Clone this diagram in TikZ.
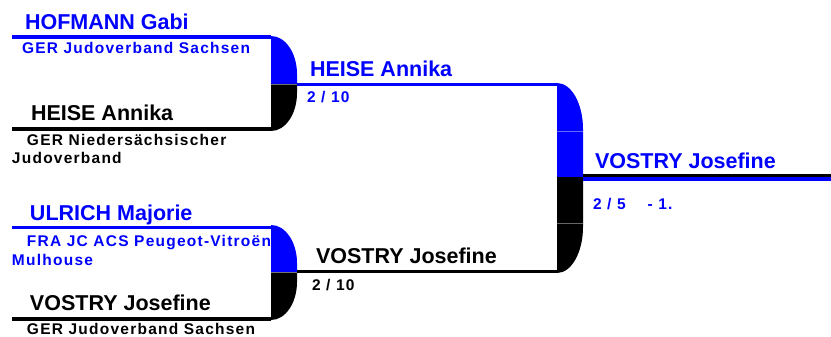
\documentclass[tikz,border=0pt]{standalone}
\usepackage{fontspec}
\setmainfont{Liberation Sans}
\newfontfamily\clubfont[LetterSpace=8]{Liberation Sans}

\begin{document}
\begin{tikzpicture}[x=1pt,y=-1pt,every node/.style={inner sep=0pt, outer sep=0pt, anchor=base west},
  fighter/.style={font=\fontsize{21.5}{24}\selectfont\bfseries},
  clubtext/.style={font=\clubfont\fontsize{15.5}{18}\selectfont\bfseries}]
\useasboundingbox (0,0) rectangle (831,337);
% round 1, upper pair
\fill[blue] (271,36) .. controls (285.4,36) and (297,53) .. (297,74) -- (297,84) -- (271,84) -- cycle;
\fill[black] (271,84) -- (297,84) -- (297,93) .. controls (297,114) and (285.4,131) .. (271,131) -- cycle;
\draw[black!55, line width=0.8pt] (271,84.4) -- (297,84.4);
\draw[blue, line width=3.5pt] (12,37) -- (271,37);
\draw[black, line width=3.5pt] (12,129) -- (271,129);
% round 1, lower pair
\fill[blue] (271,225) .. controls (285.4,225) and (297,242) .. (297,263) -- (297,272) -- (271,272) -- cycle;
\fill[black] (271,272) -- (297,272) -- (297,282) .. controls (297,303) and (285.4,320) .. (271,320) -- cycle;
\draw[black!55, line width=0.8pt] (271,272.4) -- (297,272.4);
\draw[blue, line width=3.5pt] (12,227.7) -- (271,227.7);
\draw[black, line width=3.5pt] (12,319) -- (271,319);
% round 2
\fill[blue] (557,83) .. controls (571.4,83) and (583,103.6) .. (583,129) -- (583,177) -- (557,177) -- cycle;
\fill[black] (557,177) -- (583,177) -- (583,227) .. controls (583,252.4) and (571.4,273) .. (557,273) -- cycle;
\draw[blue!60, line width=0.8pt] (557,131) -- (583,131);
\draw[black!60, line width=0.8pt] (557,223) -- (583,223);
\draw[blue, line width=3pt] (297,84.7) -- (557,84.7);
\draw[black, line width=3pt] (297,271.3) -- (557,271.3);
% final
\draw[black, line width=2.3pt] (583,175.5) -- (831,175.5);
\draw[blue, line width=3.5pt] (583,179) -- (831,179);
% names and clubs
\node[fighter, text=blue] (hofmann) at (25,30) {HOFMANN Gabi};
\node[clubtext, text=blue] (hofmannclub) at (22,54) {GER Judoverband Sachsen};
\node[fighter] (heise) at (31,121) {HEISE Annika};
\node[clubtext] (heiseclub) at (27,146) {GER Niedersächsischer};
\node[clubtext] (heiseclubb) at (12,164) {Judoverband};
\node[fighter, text=blue] (ulrich) at (30,220.7) {ULRICH Majorie};
\node[clubtext, text=blue] (ulrichclub) at (27,246) {FRA JC ACS Peugeot-Vitroën};
\node[clubtext, text=blue] (ulrichclubb) at (12,265) {Mulhouse};
\node[fighter] (vostry) at (30,310.7) {VOSTRY Josefine};
\node[clubtext] (vostryclub) at (27,334) {GER Judoverband Sachsen};
% winners
\node[fighter, text=blue] (heisewin) at (310,76.7) {HEISE Annika};
\node[clubtext, text=blue] (heisescore) at (307,102.7) {2 / 10};
\node[fighter] (vostrywin) at (316,263) {VOSTRY Josefine};
\node[clubtext] (vostryscore) at (312,290) {2 / 10};
\node[fighter, text=blue] (vostryfinal) at (595,168.3) {VOSTRY Josefine};
\node[clubtext, text=blue] (finalscore) at (593,209.3) {2 / 5\hspace{22pt}- 1.};
\end{tikzpicture}
\end{document}
